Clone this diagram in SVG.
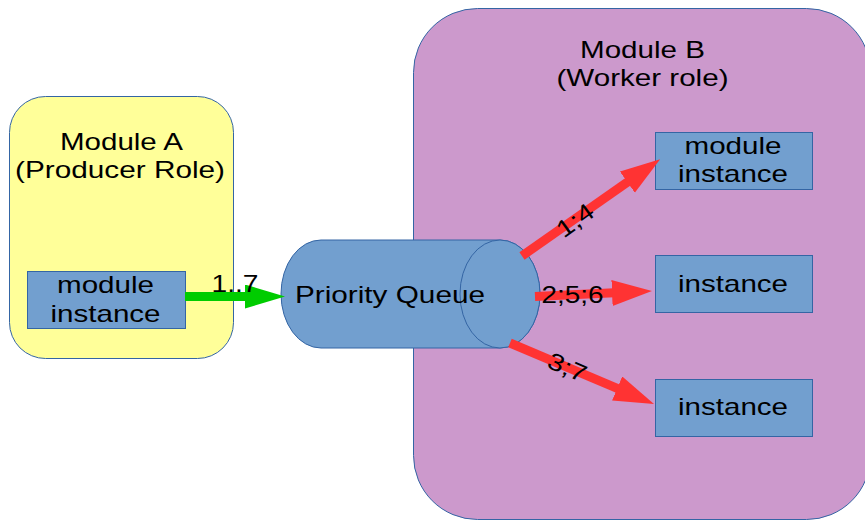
<svg xmlns="http://www.w3.org/2000/svg" width="865" height="521" viewBox="0 0 865 521">
  <style>
    .module-a { fill: #ffff99; stroke: #3465a4; stroke-width: 1; }
    .module-b { fill: #cc99cc; stroke: #3465a4; stroke-width: 1; }
    .box { fill: #729fcf; stroke: #3465a4; stroke-width: 1; }
    text { font-family: "Liberation Sans", Arial, sans-serif; font-size: 24px; fill: #000; text-anchor: middle; }
    .flow-in { stroke: #00cc00; stroke-width: 9; fill: none; }
    .flow-out { stroke: #ff3333; stroke-width: 9; fill: none; }
  </style>
  <defs>
    <marker id="head-green" markerUnits="userSpaceOnUse" markerWidth="42" markerHeight="26" refX="2" refY="12" orient="auto">
      <path d="M0,0 L40,12 L0,24 Z" fill="#00cc00"/>
    </marker>
    <marker id="head-red" markerUnits="userSpaceOnUse" markerWidth="42" markerHeight="28" refX="2" refY="13" orient="auto">
      <path d="M0,0 L40,13 L0,26 Z" fill="#ff3333"/>
    </marker>
  </defs>

  <rect width="865" height="521" fill="#ffffff"/>

  <!-- Producer module -->
  <g id="module-a">
    <rect class="module-a" x="9.5" y="96.5" width="224" height="262" rx="36" ry="36"/>
    <text x="121.5" y="150" textLength="123" lengthAdjust="spacingAndGlyphs">Module A</text>
    <text x="120" y="178" textLength="210" lengthAdjust="spacingAndGlyphs">(Producer Role)</text>
  </g>

  <!-- Worker module -->
  <g id="module-b">
    <rect class="module-b" x="413.5" y="8.5" width="457" height="511" rx="64" ry="64"/>
    <text x="642.5" y="58" textLength="125" lengthAdjust="spacingAndGlyphs">Module B</text>
    <text x="642.5" y="86" textLength="172" lengthAdjust="spacingAndGlyphs">(Worker role)</text>
  </g>

  <g id="producer-instance">
    <rect class="box" x="27.5" y="271.5" width="158" height="57"/>
    <text x="105.5" y="292.5" textLength="97" lengthAdjust="spacingAndGlyphs">module</text>
    <text x="105.5" y="321.5" textLength="110" lengthAdjust="spacingAndGlyphs">instance</text>
  </g>

  <g id="worker-instance-1">
    <rect class="box" x="655.5" y="132.5" width="157" height="57"/>
    <text x="733" y="154" textLength="97" lengthAdjust="spacingAndGlyphs">module</text>
    <text x="733" y="181.5" textLength="110" lengthAdjust="spacingAndGlyphs">instance</text>
  </g>

  <g id="worker-instance-2">
    <rect class="box" x="655.5" y="255.5" width="157" height="57"/>
    <text x="733" y="292" textLength="110" lengthAdjust="spacingAndGlyphs">instance</text>
  </g>

  <g id="worker-instance-3">
    <rect class="box" x="655.5" y="379.5" width="157" height="57"/>
    <text x="733" y="415" textLength="110" lengthAdjust="spacingAndGlyphs">instance</text>
  </g>

  <!-- Queue drawn as a horizontal cylinder -->
  <g id="priority-queue">
    <path class="box" d="M321,240 L500,240 A40,54 0 0 1 500,348 L321,348 A40,54 0 0 1 321,240 Z"/>
    <ellipse class="box" cx="500" cy="294" rx="40" ry="54"/>
    <text x="390" y="302.5" textLength="190" lengthAdjust="spacingAndGlyphs">Priority Queue</text>
  </g>

  <g id="connectors">
    <line class="flow-in" x1="185" y1="296.5" x2="247" y2="296.5" marker-end="url(#head-green)"/>
    <text x="235" y="291.5" textLength="47" lengthAdjust="spacingAndGlyphs">1..7</text>

    <line class="flow-out" x1="522" y1="256" x2="629" y2="181" marker-end="url(#head-red)"/>
    <text transform="translate(575 220) rotate(-36)" x="0" y="8.5" textLength="40" lengthAdjust="spacingAndGlyphs">1;4</text>

    <line class="flow-out" x1="535" y1="296.5" x2="614" y2="292.8" marker-end="url(#head-red)"/>
    <text x="572.5" y="303.3" textLength="62" lengthAdjust="spacingAndGlyphs">2;5;6</text>

    <line class="flow-out" x1="510" y1="343" x2="619" y2="389.2" marker-end="url(#head-red)"/>
    <text transform="translate(567.5 367) rotate(23)" x="0" y="8.5" textLength="40" lengthAdjust="spacingAndGlyphs">3;7</text>
  </g>
</svg>
